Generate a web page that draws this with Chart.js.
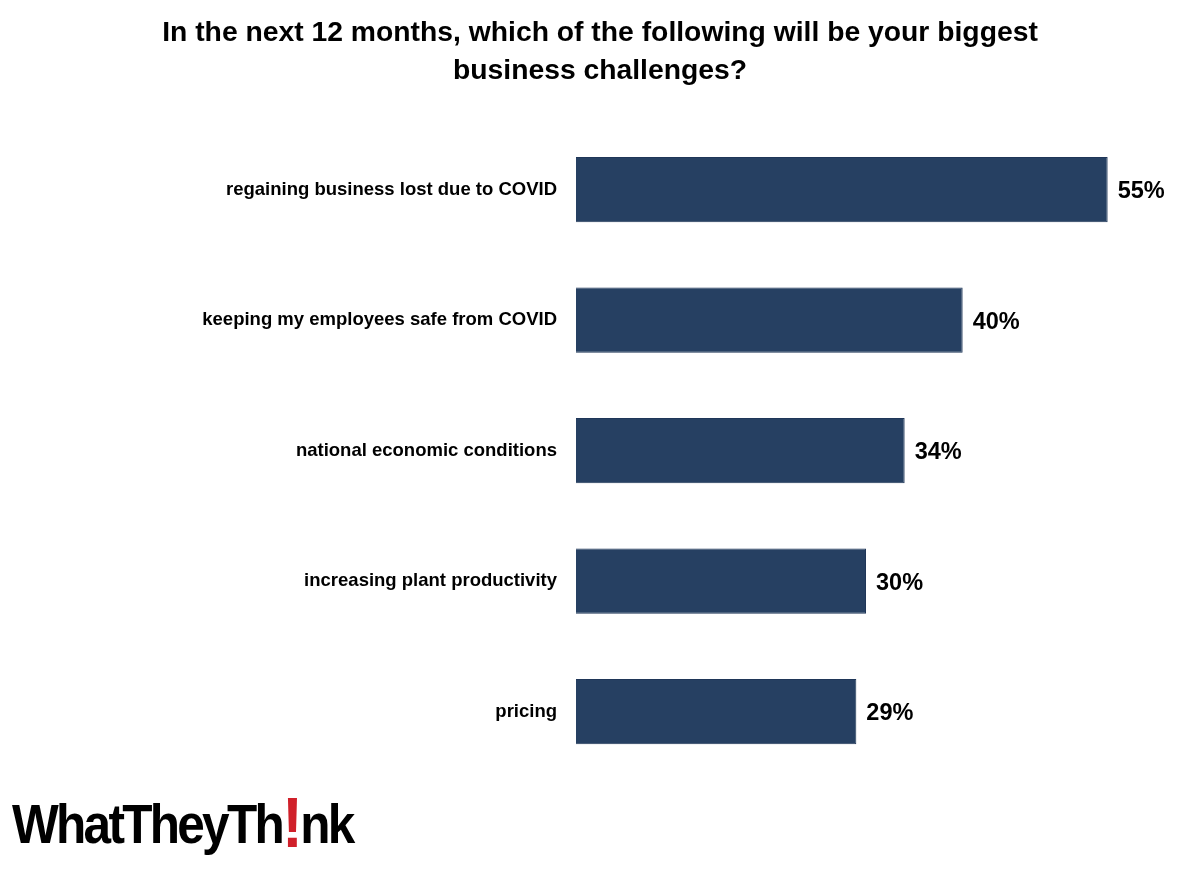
<!DOCTYPE html>
<html>
<head>
<meta charset="utf-8">
<script src="https://cdn.jsdelivr.net/npm/chart.js@4"></script>
<style>
    html, body { margin: 0; padding: 0; background: #ffffff; }
    #wrap { position: relative; width: 1200px; height: 871px; }
    #logo {
        position: absolute; left: 12px; top: 792px;
        font-family: "Liberation Sans", Arial, sans-serif;
        font-weight: bold; font-size: 55px; letter-spacing: -3px;
        color: #000000; line-height: 64px;
        transform: scaleX(0.9); transform-origin: left top;
        white-space: nowrap;
    }
    #logo span { color: #d0202a; font-size: 70px; line-height: 0; vertical-align: -4px; }
</style>
</head>
<body>
<div id="wrap">
    <canvas id="surveyChart" width="1200" height="871"></canvas>
    <div id="logo">WhatTheyTh<span>!</span>nk</div>
</div>
<script>
// --- 1. DATA ---
const titleLines = ['In the next 12 months, which of the following will be your biggest', 'business challenges?'];
const categories = [
    'regaining business lost due to COVID',
    'keeping my employees safe from COVID',
    'national economic conditions',
    'increasing plant productivity',
    'pricing'
];
const percentages = [55, 40, 34, 30, 29];

// --- 2. VALUE LABELS (drawn at the end of each bar) ---
const valueLabels = {
    id: 'valueLabels',
    afterDatasetsDraw(chart) {
        const { ctx } = chart;
        const meta = chart.getDatasetMeta(0);
        ctx.save();
        ctx.font = 'bold 23.5px "Liberation Sans", Arial, sans-serif';
        ctx.fillStyle = '#000000';
        ctx.textAlign = 'left';
        ctx.textBaseline = 'middle';
        meta.data.forEach((bar, i) => {
            ctx.fillText(percentages[i] + '%', bar.x + 10, bar.y + 2);
        });
        ctx.restore();
    }
};

// --- 3. CHART ---
const ctx = document.getElementById('surveyChart').getContext('2d');
const surveyChart = new Chart(ctx, {
    type: 'bar',
    data: {
        labels: categories,
        datasets: [{
            data: percentages,
            backgroundColor: '#264062',
            borderColor: '#1f3658',
            borderWidth: 1,
            categoryPercentage: 1.0,
            barPercentage: 0.5
        }]
    },
    options: {
        indexAxis: 'y',
        responsive: false,
        animation: false,
        // symmetric side padding keeps the title centred on the page
        layout: { padding: { left: 44, right: 44, top: 0, bottom: 94 } },
        plugins: {
            legend: { display: false },
            tooltip: { enabled: false },
            title: {
                display: true,
                text: titleLines,
                color: '#000000',
                font: { family: '"Liberation Sans", Arial, sans-serif', size: 28.3, weight: 'bold', lineHeight: 1.35 },
                padding: { top: 14, bottom: 34 }
            }
        },
        scales: {
            x: {
                min: 0,
                max: 60,
                display: false
            },
            y: {
                // fixed axis width so the bars start at x = 576
                afterFit(scale) { scale.width = 532; },
                grid: { display: false, drawTicks: false },
                border: { display: false },
                ticks: {
                    color: '#000000',
                    padding: 19,
                    font: { family: '"Liberation Sans", Arial, sans-serif', size: 18.5, weight: 'bold' }
                }
            }
        }
    },
    plugins: [valueLabels]
});
</script>
</body>
</html>
